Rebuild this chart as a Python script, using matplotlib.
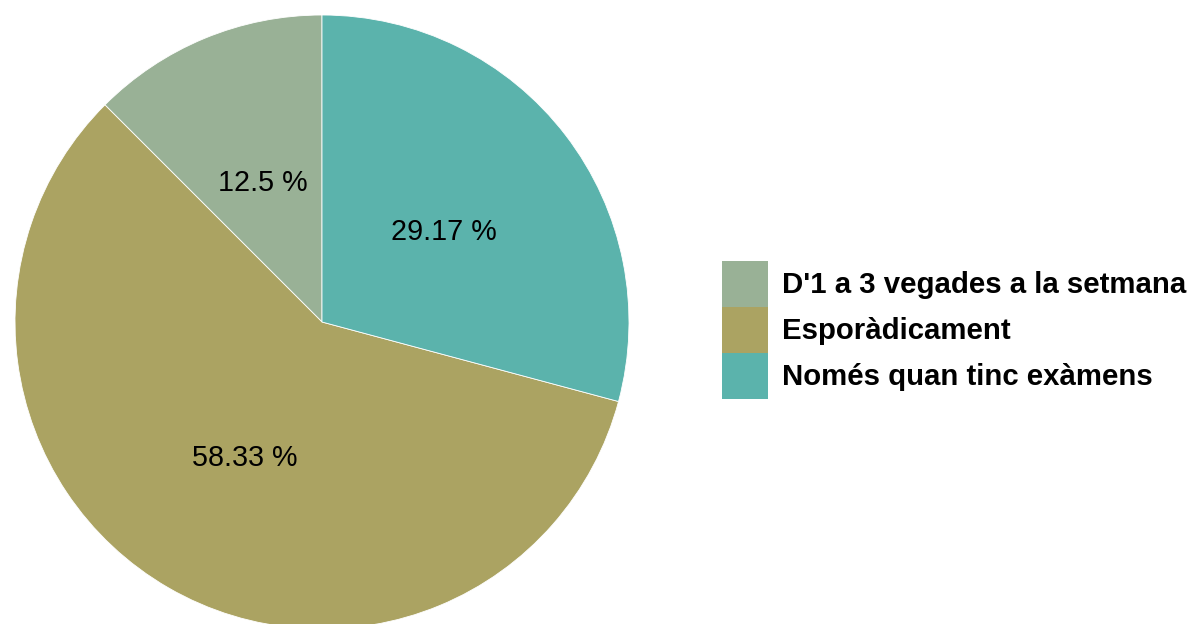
import matplotlib.pyplot as plt
from matplotlib.patches import Patch

categories = ["D'1 a 3 vegades a la setmana", "Esporàdicament", "Només quan tinc exàmens"]
percent = [12.5, 58.33, 29.17]
colors = ["#99b196", "#aba362", "#5bb3ac"]

plt.rcParams['font.family'] = ['Liberation Sans', 'DejaVu Sans']

fig = plt.figure(figsize=(11.9, 6.24), dpi=100)
# pie centred at (322, 322) px from top, radius ~307 px
ax = fig.add_axes([15 / 1190, -5 / 624, 614 / 1190, 614 / 624])

wedges, texts, autotexts = ax.pie(
    percent, colors=colors, startangle=90, radius=1,
    autopct=lambda p: '', pctdistance=0.5,
    wedgeprops=dict(edgecolor='white', linewidth=0.6))

# percent labels as in the source
for t, v in zip(autotexts, percent):
    t.set_text(f"{v:g} %")
    t.set_fontsize(20.7)
    t.set_color('black')
    t.set_va('center_baseline')

ax.set_xlim(-1, 1)
ax.set_ylim(-1, 1)
ax.set_aspect('equal')
ax.axis('off')

fs = 21.2
box = 46 * 0.72 / fs  # 46 px square handles
handles = [Patch(facecolor=c, edgecolor='none') for c in colors]
fig.legend(handles, categories, loc='center left',
           bbox_to_anchor=(722 / 1190, 294 / 624),
           frameon=False, borderpad=0, borderaxespad=0,
           labelspacing=0, handlelength=box,
           handleheight=(box - 0.245) / 0.65,
           handletextpad=14 * 0.72 / fs,
           prop=dict(size=fs, weight='bold'))

fig.savefig('out.png', dpi=100)
